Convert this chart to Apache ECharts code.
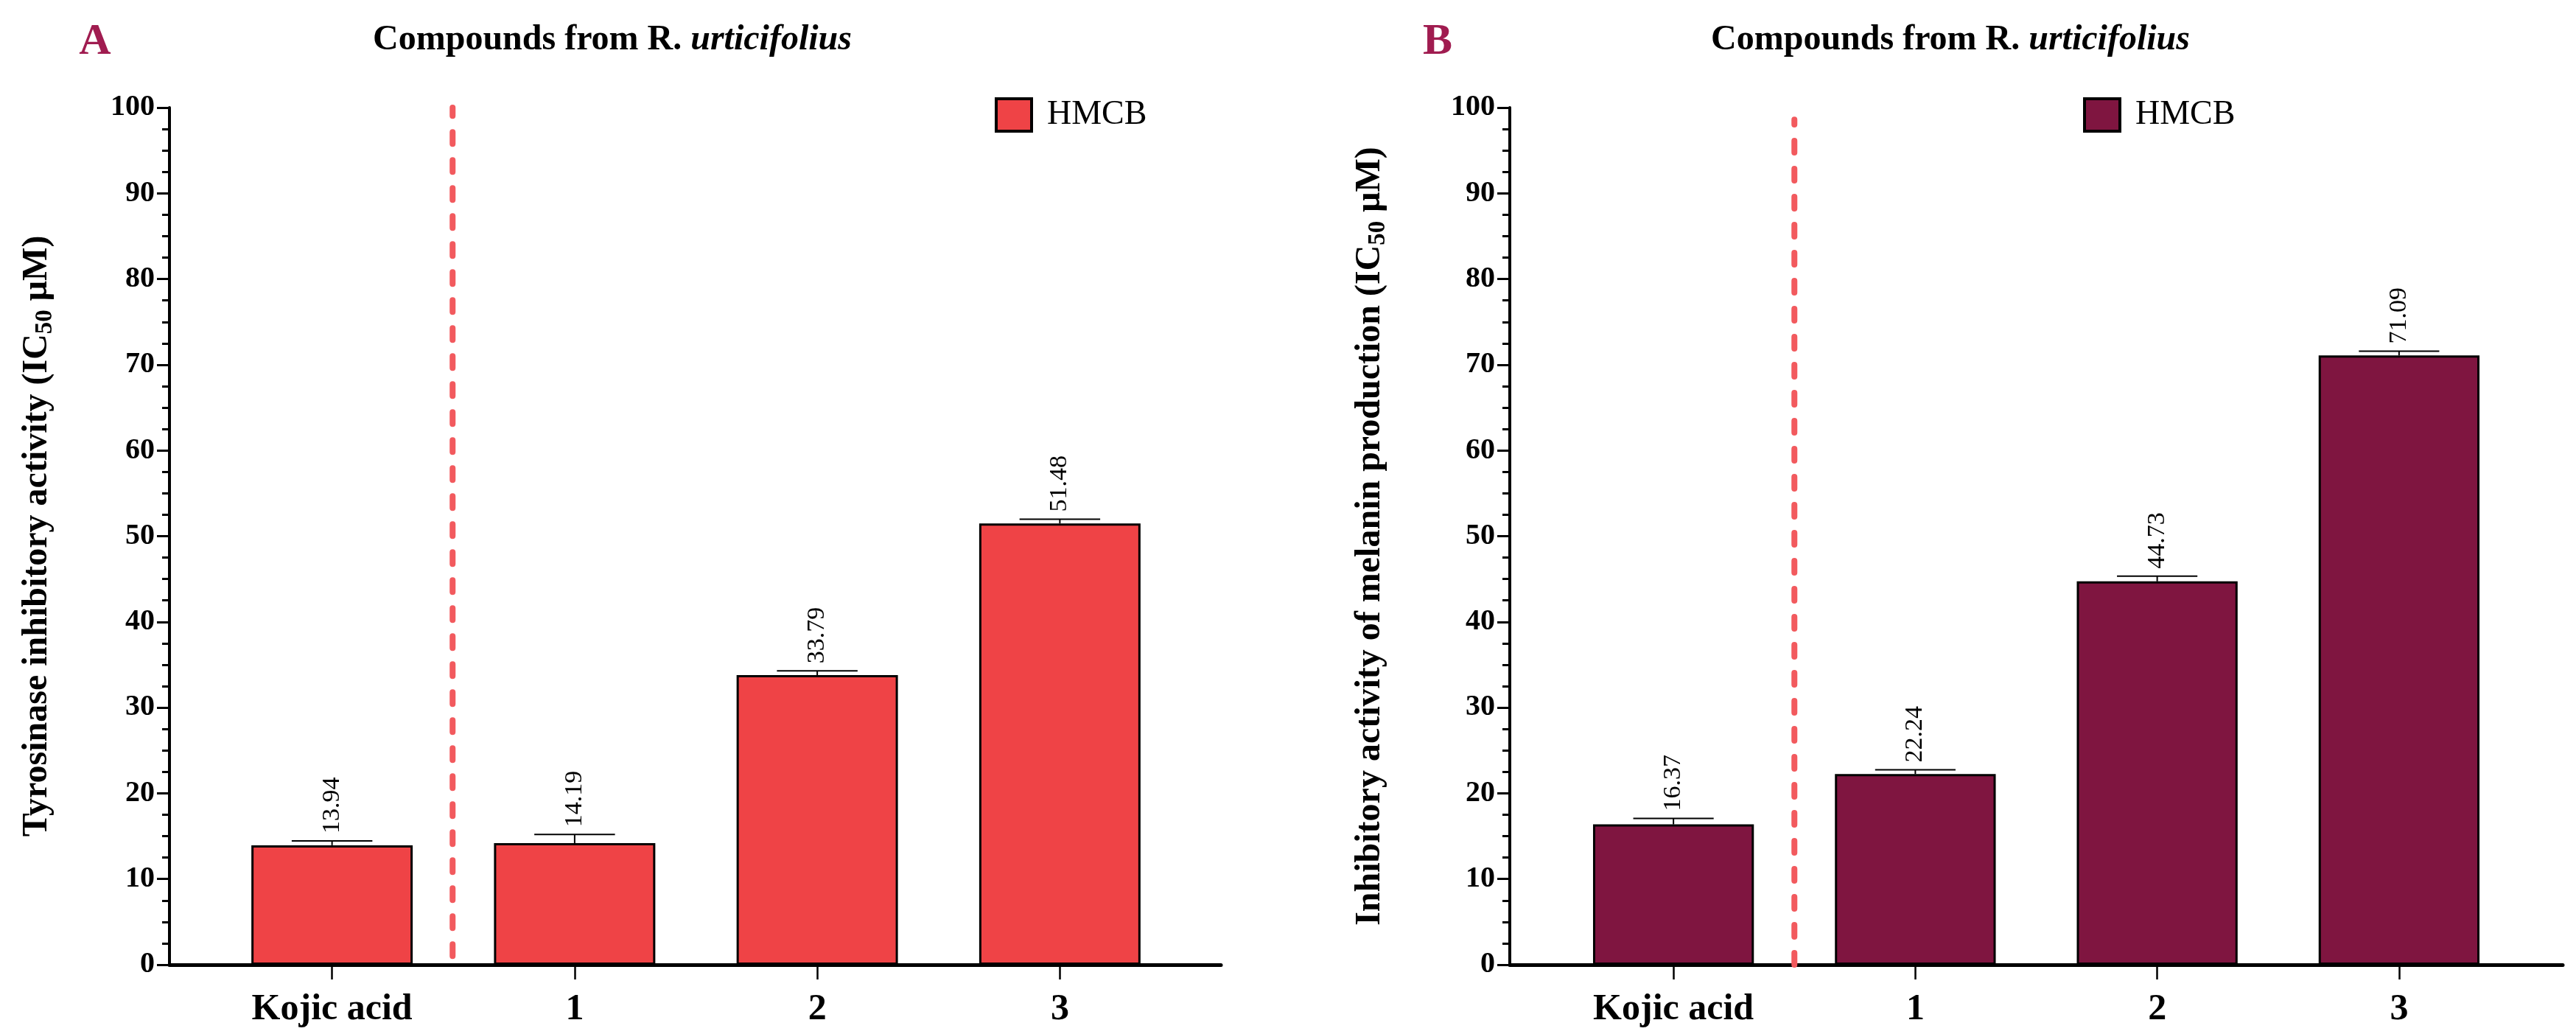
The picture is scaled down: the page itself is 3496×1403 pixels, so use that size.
<!DOCTYPE html>
<html><head><meta charset="utf-8">
<script src="https://cdn.jsdelivr.net/npm/echarts@6/dist/echarts.min.js"></script>
<style>html,body{margin:0;padding:0;background:#fff}#c{width:3496px;height:1403px}</style>
</head><body><div id="c"></div>
<script>
// ---- data ----
const categories = ['Kojic acid', '1', '2', '3'];
const tyrosinaseValues = [13.94, 14.19, 33.79, 51.48];
const tyrosinaseErrors = [0.5, 1.0, 0.5, 0.5];
const melaninValues = [16.37, 22.24, 44.73, 71.09];
const melaninErrors = [0.7, 0.5, 0.6, 0.5];
const yMin = 0, yMax = 100, yInterval = 10;
const separatorPosition = 0.5;   // between Kojic acid and compound 1
const legendLabel = 'HMCB';
const panelLetters = ['A', 'B'];
const yNames = ['Tyrosinase inhibitory activity (IC', 'Inhibitory activity of melanin production (IC'];

// ---- layout / style ----
const SERIF = '"Liberation Serif", "DejaVu Serif", serif';
const panels = [
  {letter: panelLetters[0], values: tyrosinaseValues, errors: tyrosinaseErrors, yName: yNames[0],
   color: '#EF4346', outerLeft: 230, innerLeft: 286, innerWidth: 1317, ext: 55, letterX: 124, titleX: 826,
   legendLeft: 1345, nameGap: 152, sep: [1, 100]},
  {letter: panelLetters[1], values: melaninValues, errors: melaninErrors, yName: yNames[1],
   color: '#7F1540', outerLeft: 2049, innerLeft: 2107, innerWidth: 1313, ext: 58, letterX: 1946, titleX: 2642,
   legendLeft: 2822, nameGap: 162, sep: [0, 98.6]}
];
const TOP = 146, BOTTOM = 94;
const barFrac = 0.665;

function errorRenderer(params, api) {
  const i = api.value(0), v = api.value(1), e = api.value(2);
  const base = api.coord([i, v]);
  const top = api.coord([i, v + e]);
  const band = api.size([1, 0])[0];
  const half = band * barFrac / 4;
  return {type: 'group', children: [
    {type: 'line', shape: {x1: base[0], y1: base[1], x2: top[0], y2: top[1]}, style: {stroke: '#000', lineWidth: 2}},
    {type: 'line', shape: {x1: top[0] - half, y1: top[1], x2: top[0] + half, y2: top[1]}, style: {stroke: '#000', lineWidth: 2}},
    {type: 'text', x: top[0], y: top[1] - 10, rotation: Math.PI / 2,
     style: {text: v.toFixed(2), fill: '#000', font: '34px ' + SERIF, align: 'left', verticalAlign: 'middle'}}
  ]};
}

const option = {backgroundColor: '#fff', animation: false, grid: [], xAxis: [], yAxis: [], series: [], title: [], legend: []};

panels.forEach((p, k) => {
  const go = k * 2, gi = k * 2 + 1;
  const bandW = p.innerWidth / categories.length;
  const extU = p.ext / bandW;
  const outerWidth = p.innerWidth + 2 * p.ext;
  option.grid.push({left: p.outerLeft, top: TOP, width: outerWidth, bottom: BOTTOM, containLabel: false});
  option.grid.push({left: p.innerLeft, top: TOP, width: p.innerWidth, bottom: BOTTOM, containLabel: false});
  option.xAxis.push({type: 'value', gridIndex: go, min: -0.5 - extU, max: categories.length - 0.5 + extU,
    axisLine: {show: true, onZero: false, lineStyle: {color: '#000', width: 5}},
    axisTick: {show: false}, axisLabel: {show: false}, splitLine: {show: false}});
  option.xAxis.push({type: 'category', gridIndex: gi, data: categories, boundaryGap: true,
    axisLine: {show: false}, axisTick: {show: true, alignWithLabel: true, length: 20, lineStyle: {color: '#000', width: 2.5}},
    axisLabel: {margin: 36, color: '#000', fontFamily: SERIF, fontWeight: 'bold', fontSize: 50}, splitLine: {show: false}});
  option.yAxis.push({type: 'value', gridIndex: go, min: yMin, max: yMax, interval: yInterval,
    axisLine: {show: true, onZero: false, lineStyle: {color: '#000', width: 4}},
    axisTick: {show: true, length: 17, lineStyle: {color: '#000', width: 3}},
    minorTick: {show: true, splitNumber: 4, length: 10, lineStyle: {color: '#000', width: 3}},
    splitLine: {show: false},
    axisLabel: {margin: 20, color: '#000', fontFamily: SERIF, fontWeight: 'bold', fontSize: 40},
    name: '{a|' + p.yName + '}{s|50}{a| μM)}', nameLocation: 'middle', nameRotate: 90, nameGap: p.nameGap,
    nameTextStyle: {rich: {
      a: {fontFamily: SERIF, fontWeight: 'bold', fontSize: 48, lineHeight: 54, color: '#000'},
      s: {fontFamily: SERIF, fontWeight: 'bold', fontSize: 33, lineHeight: 33, verticalAlign: 'bottom', color: '#000'}}}});
  option.yAxis.push({type: 'value', gridIndex: gi, min: yMin, max: yMax, show: false});

  const sname = p.letter + '-' + legendLabel;
  option.series.push({type: 'bar', name: sname, xAxisIndex: gi, yAxisIndex: gi, data: p.values,
    barWidth: (barFrac * 100) + '%', itemStyle: {color: p.color, borderColor: '#000', borderWidth: 3}, z: 2});
  option.series.push({type: 'custom', xAxisIndex: gi, yAxisIndex: gi, renderItem: errorRenderer,
    data: categories.map((c, i) => [i, p.values[i], p.errors[i]]), z: 3});
  option.series.push({type: 'line', xAxisIndex: go, yAxisIndex: go, symbol: 'none',
    data: [[separatorPosition, p.sep[0]], [separatorPosition, p.sep[1]]],
    lineStyle: {color: '#F25A5E', width: 8, type: [16, 22], cap: 'round'}, z: 1});

  option.title.push({text: p.letter, left: p.letterX, top: 22, textAlign: 'center',
    textStyle: {fontFamily: SERIF, fontWeight: 'bold', fontSize: 60, color: '#A01C50'}});
  option.title.push({text: '{n|Compounds from R. }{i|urticifolius}', left: p.titleX, top: 26, textAlign: 'center',
    textStyle: {rich: {
      n: {fontFamily: SERIF, fontWeight: 'bold', fontSize: 48, color: '#000'},
      i: {fontFamily: SERIF, fontWeight: 'bold', fontStyle: 'italic', fontSize: 48, color: '#000'}}}});
  option.legend.push({data: [sname], left: p.legendLeft, top: 127, itemWidth: 48, itemHeight: 44, icon: 'rect',
    formatter: () => legendLabel, selectedMode: false,
    itemStyle: {borderColor: '#000', borderWidth: 4},
    textStyle: {fontFamily: SERIF, fontSize: 46, color: '#000', padding: [0, 0, 0, 16]}});
});

const chart = echarts.init(document.getElementById('c'));
chart.setOption(option);
</script></body></html>
